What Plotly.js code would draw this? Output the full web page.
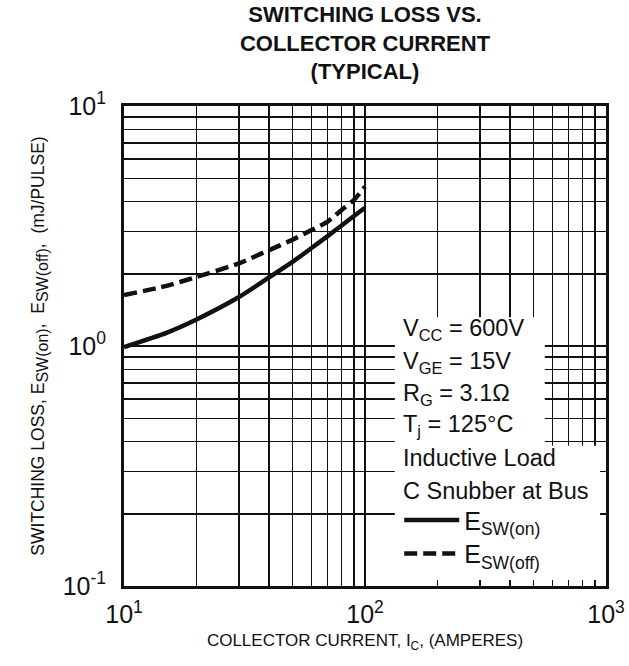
<!DOCTYPE html>
<html>
<head>
<meta charset="utf-8">
<script src="https://cdn.plot.ly/plotly-3.0.1.min.js"></script>
<style>html,body{margin:0;padding:0;background:#fff;}#chart{width:629px;height:666px;}</style>
</head>
<body>
<div id="chart"></div>
<script>
// Data
const currentOn = [10, 15, 20, 30, 40, 50, 60, 70, 80, 90, 100];
const esOn = [0.99, 1.135, 1.29, 1.60, 1.93, 2.24, 2.56, 2.87, 3.18, 3.48, 3.77];
const currentOff = [10, 15, 20, 30, 40, 50, 60, 70, 80, 90, 100];
const esOff = [1.63, 1.78, 1.94, 2.21, 2.51, 2.77, 3.04, 3.30, 3.69, 4.06, 4.61];
const xTickVals = [10,20,30,40,50,60,70,80,90,100,200,300,400,500,600,700,800,900,1000];
const xTickText = ['10<sup>1</sup>','','','','','','','','','10<sup>2</sup>','','','','','','','','','10<sup>3</sup>'];
const yTickVals = [0.1,0.2,0.3,0.4,0.5,0.6,0.7,0.8,0.9,1,2,3,4,5,6,7,8,9,10];
const yTickText = ['10<sup>-1</sup>','','','','','','','','','10<sup>0</sup>','','','','','','','','','10<sup>1</sup>'];
const conditions = ['V<sub>CC</sub> = 600V','V<sub>GE</sub> = 15V','R<sub>G</sub> = 3.1Ω','T<sub>j</sub> = 125°C','Inductive Load','C Snubber at Bus'];

const FONT = '"Liberation Sans", Arial, Helvetica, sans-serif';
const traces = [
  {x: currentOn, y: esOn, name: 'E<sub>SW(on)</sub>', type: 'scatter', mode: 'lines', legend: 'legend',
   line: {color: '#111', width: 4.5, shape: 'spline', smoothing: 0.6}},
  {x: currentOff, y: esOff, name: 'E<sub>SW(off)</sub>', type: 'scatter', mode: 'lines', legend: 'legend2',
   line: {color: '#111', width: 4.5, dash: '13px,6px', shape: 'spline', smoothing: 0.6}}
];

const condY = [0.535, 0.466, 0.399, 0.334, 0.266, 0.197];
const annotations = conditions.map((t, i) => ({
  xref: 'paper', yref: 'paper', x: 0.575, y: condY[i], xanchor: 'left', yanchor: 'middle',
  text: t, showarrow: false, font: {family: FONT, size: 23.5, color: '#111'}
}));

const legendCommon = {xanchor: 'left', yanchor: 'top', bgcolor: 'rgba(0,0,0,0)',
  font: {family: FONT, size: 25, color: '#111'}, itemwidth: 55};

const layout = {
  width: 629, height: 666,
  margin: {l: 124, r: 23, t: 106, b: 80},
  paper_bgcolor: '#fff', plot_bgcolor: '#fff',
  font: {family: FONT, color: '#111'},
  title: {text: '<b>SWITCHING LOSS VS.<br>COLLECTOR CURRENT<br>(TYPICAL)</b>', x: 0.5, xref: 'paper', xanchor: 'center',
          y: 1, yref: 'paper', yanchor: 'bottom', pad: {b: 84}, font: {family: FONT, size: 22, color: '#111'}},
  showlegend: true,
  legend: Object.assign({x: 0.571, y: 0.185}, legendCommon),
  legend2: Object.assign({x: 0.571, y: 0.115}, legendCommon),
  xaxis: {type: 'log', range: [1, 3], tickmode: 'array', tickvals: xTickVals, ticktext: xTickText,
          showgrid: true, gridcolor: '#111', gridwidth: 1.5, ticks: 'inside', ticklen: 6, tickwidth: 1.5,
          tickcolor: '#111', showline: true, linecolor: '#111', linewidth: 3, mirror: 'ticks',
          tickfont: {family: FONT, size: 25, color: '#111'}, zeroline: false, ticklabelstandoff: 4,
          title: {text: 'COLLECTOR CURRENT, I<sub>C</sub>, (AMPERES)', font: {family: FONT, size: 17, color: '#111'}, standoff: 8}},
  yaxis: {type: 'log', range: [-1, 1], tickmode: 'array', tickvals: yTickVals, ticktext: yTickText,
          showgrid: true, gridcolor: '#111', gridwidth: 1.5, ticks: 'inside', ticklen: 6, tickwidth: 1.5,
          tickcolor: '#111', showline: true, linecolor: '#111', linewidth: 3, mirror: 'ticks',
          tickfont: {family: FONT, size: 25, color: '#111'}, zeroline: false, ticklabelstandoff: 10,
          title: {text: 'SWITCHING LOSS, E<sub><span style="font-size:16px">SW(on)</span></sub>,\u00a0 E<sub><span style="font-size:16px">SW(off)</span></sub>,\u00a0 (mJ/PULSE)',
                  font: {family: FONT, size: 17.5, color: '#111'}, standoff: 14}},
  shapes: [
    {type: 'rect', xref: 'paper', yref: 'paper', x0: 0.562, x1: 0.873, y0: 0.0125, y1: 0.56, layer: 'above', fillcolor: '#fff', line: {width: 0}},
    {type: 'rect', xref: 'paper', yref: 'paper', x0: 0.562, x1: 0.9876, y0: 0.0125, y1: 0.292, layer: 'above', fillcolor: '#fff', line: {width: 0}}
  ],
  annotations: annotations
};

Plotly.newPlot('chart', traces, layout, {displayModeBar: false, staticPlot: true});
</script>
</body>
</html>
